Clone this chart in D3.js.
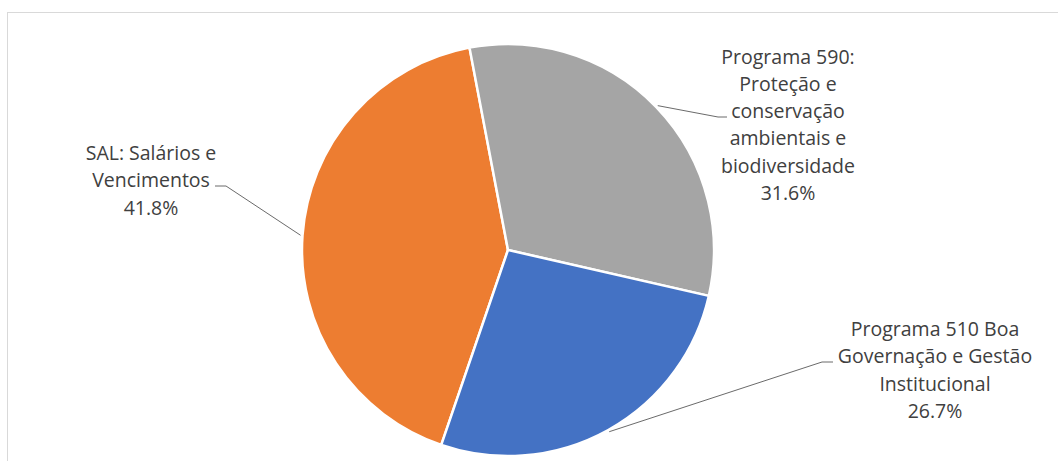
<!DOCTYPE html>
<html>
<head>
<meta charset="utf-8">
<script src="https://cdn.jsdelivr.net/npm/d3@7"></script>
<style>
  html, body { margin: 0; padding: 0; background: #fff; }
  svg { display: block; }
</style>
</head>
<body>
<div class="chart"></div>
<script>
// data
const categories = [
   "SAL: Salários e Vencimentos",
   "Programa 590: Proteção e conservação ambientais e biodiversidade",
   "Programa 510 Boa Governação e Gestão Institucional"
];
const values = [41.8, 31.6, 26.7];
const labelLines = [
   ["SAL: Salários e", "Vencimentos"],
   ["Programa 590:", "Proteção e", "conservação", "ambientais e", "biodiversidade"],
   ["Programa 510 Boa", "Governação e Gestão", "Institucional"]
];
const colors = ["#ED7D31", "#A5A5A5", "#4472C4"];

// layout
const width = 1058;
const height = 461;
const cx = 508, cy = 250, radius = 206;
const lineHeight = 27.3;
// label block: centre x, first baseline, leader elbow (x, y) and label-side end x
const labelLayout = [
   { x: 151, y: 160, elbow: [226, 186], end: 215 },
   { x: 788, y: 63.5, elbow: [718, 117], end: 727 },
   { x: 935, y: 336, elbow: [822, 362], end: 833 }
];

const chart = d3.select(".chart").append("svg").attr("width", width).attr("height", height);

// chart area border
chart.append("rect")
   .attr("x", 7.5).attr("y", 12.5)
   .attr("width", width + 20).attr("height", height + 20)
   .attr("fill", "none").attr("stroke", "#d9d9d9").attr("stroke-width", 1);

const start = 198.9 * Math.PI / 180;
const pie = d3.pie().sort(null).startAngle(start).endAngle(start + 2 * Math.PI);
const arcs = pie(values);
const arc = d3.arc().innerRadius(0).outerRadius(radius);

const g = chart.append("g").attr("transform", `translate(${cx},${cy})`);

g.selectAll("path")
   .data(arcs)
   .enter()
   .append("path")
   .attr("d", arc)
   .attr("fill", (d, i) => colors[i])
   .attr("stroke", "#fff")
   .attr("stroke-width", 2.5)
   .attr("stroke-linejoin", "round");

// leader lines
const outer = d3.arc().innerRadius(208).outerRadius(208);
chart.append("g")
   .selectAll("polyline")
   .data(arcs)
   .enter()
   .append("polyline")
   .attr("points", (d, i) => {
      const p = outer.centroid(d);
      const L = labelLayout[i];
      return [[p[0] + cx, p[1] + cy], L.elbow, [L.end, L.elbow[1]]].join(" ");
   })
   .attr("fill", "none")
   .attr("stroke", "#595959")
   .attr("stroke-width", 0.9);

// labels
const labels = chart.append("g")
   .selectAll("text")
   .data(arcs)
   .enter()
   .append("text")
   .attr("text-anchor", "middle")
   .attr("font-family", "'Open Sans', sans-serif")
   .attr("font-size", "19.5px")
   .attr("fill", "#404040")
   .attr("x", (d, i) => labelLayout[i].x)
   .attr("y", (d, i) => labelLayout[i].y);

labels.selectAll("tspan")
   .data((d, i) => labelLines[i].concat([d.data.toFixed(1) + "%"]).map((t) => ({ t, i })))
   .enter()
   .append("tspan")
   .attr("x", (d) => labelLayout[d.i].x)
   .attr("dy", (d, j) => (j === 0 ? 0 : lineHeight))
   .text((d) => d.t);
</script>
</body>
</html>
